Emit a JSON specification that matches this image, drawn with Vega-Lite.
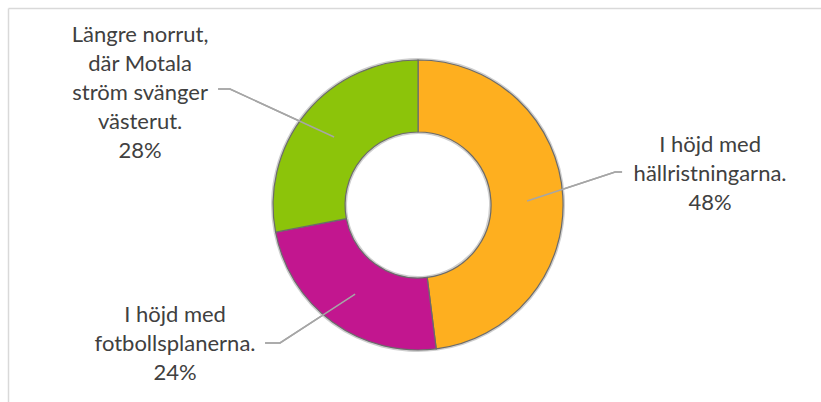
{
  "$schema": "https://vega.github.io/schema/vega-lite/v6.json",
  "width": 813,
  "height": 394,
  "autosize": {"type": "none"},
  "padding": {"left": 8, "top": 8, "right": 0, "bottom": 0},
  "background": "white",
  "view": {"stroke": null},
  "datasets": {
    "slices": [
      {"svar": "I höjd med hällristningarna.", "andel": 48, "ordning": 1},
      {"svar": "I höjd med fotbollsplanerna.", "andel": 24, "ordning": 2},
      {"svar": "Längre norrut, där Motala ström svänger västerut.", "andel": 28, "ordning": 3}
    ],
    "labels": [
      {"etikett": "Längre norrut,\ndär Motala\nström svänger\nvästerut.\n28%", "lx": -1.917, "ly": 1.172},
      {"etikett": "I höjd med\nhällristningarna.\n48%", "lx": 2.014, "ly": 0.414},
      {"etikett": "I höjd med\nfotbollsplanerna.\n24%", "lx": -1.676, "ly": -0.759}
    ],
    "leaders": [
      {"grupp": "grön", "steg": 1, "px": -1.379, "py": 0.8},
      {"grupp": "grön", "steg": 2, "px": -1.297, "py": 0.8},
      {"grupp": "grön", "steg": 3, "px": -0.579, "py": 0.469},
      {"grupp": "orange", "steg": 1, "px": 0.752, "py": 0.028},
      {"grupp": "orange", "steg": 2, "px": 1.359, "py": 0.228},
      {"grupp": "orange", "steg": 3, "px": 1.407, "py": 0.228},
      {"grupp": "magenta", "steg": 1, "px": -0.434, "py": -0.614},
      {"grupp": "magenta", "steg": 2, "px": -0.952, "py": -0.952},
      {"grupp": "magenta", "steg": 3, "px": -1.055, "py": -0.952}
    ]
  },
  "layer": [
    {
      "data": {"name": "leaders"},
      "mark": {"type": "line", "color": "#a6a6a6", "strokeWidth": 1.5},
      "encoding": {
        "x": {"field": "px", "type": "quantitative", "scale": {"domain": [-2.828, 2.779], "nice": false, "zero": false},
              "axis": {"orient": "top", "domainColor": "#d9d9d9", "domainWidth": 1.5, "ticks": false, "labels": false, "grid": false, "title": null}},
        "y": {"field": "py", "type": "quantitative", "scale": {"domain": [-1.359, 1.359], "nice": false, "zero": false},
              "axis": {"orient": "left", "domainColor": "#d9d9d9", "domainWidth": 1.5, "ticks": false, "labels": false, "grid": false, "title": null}},
        "detail": {"field": "grupp"},
        "order": {"field": "steg", "type": "quantitative"}
      }
    },
    {
      "data": {"name": "slices"},
      "mark": {"type": "arc", "outerRadius": 147, "innerRadius": 71, "fill": "#cfcfcf", "stroke": null},
      "encoding": {
        "x": {"datum": 0, "type": "quantitative"},
        "y": {"datum": 0, "type": "quantitative"},
        "theta": {"field": "andel", "type": "quantitative", "stack": true},
        "order": {"field": "ordning", "type": "quantitative"}
      }
    },
    {
      "data": {"name": "slices"},
      "mark": {"type": "arc", "outerRadius": 145, "innerRadius": 73, "stroke": "#6b6b6b", "strokeWidth": 1.2},
      "encoding": {
        "x": {"datum": 0, "type": "quantitative"},
        "y": {"datum": 0, "type": "quantitative"},
        "theta": {"field": "andel", "type": "quantitative", "stack": true},
        "order": {"field": "ordning", "type": "quantitative"},
        "color": {
          "field": "svar",
          "type": "nominal",
          "legend": null,
          "scale": {
            "domain": ["I höjd med hällristningarna.", "I höjd med fotbollsplanerna.", "Längre norrut, där Motala ström svänger västerut."],
            "range": ["#FEAF1F", "#C2168F", "#8CC40A"]
          }
        }
      }
    },
    {
      "data": {"name": "leaders"},
      "mark": {"type": "line", "color": "#a6a6a6", "strokeWidth": 1.5},
      "encoding": {
        "x": {"field": "px", "type": "quantitative"},
        "y": {"field": "py", "type": "quantitative"},
        "detail": {"field": "grupp"},
        "order": {"field": "steg", "type": "quantitative"}
      }
    },
    {
      "data": {"name": "labels"},
      "mark": {"type": "text", "font": "Lato", "fontSize": 22, "color": "#404040", "align": "center", "baseline": "middle", "lineBreak": "\n", "lineHeight": 29},
      "encoding": {
        "x": {"field": "lx", "type": "quantitative"},
        "y": {"field": "ly", "type": "quantitative"},
        "text": {"field": "etikett"}
      }
    }
  ]
}
